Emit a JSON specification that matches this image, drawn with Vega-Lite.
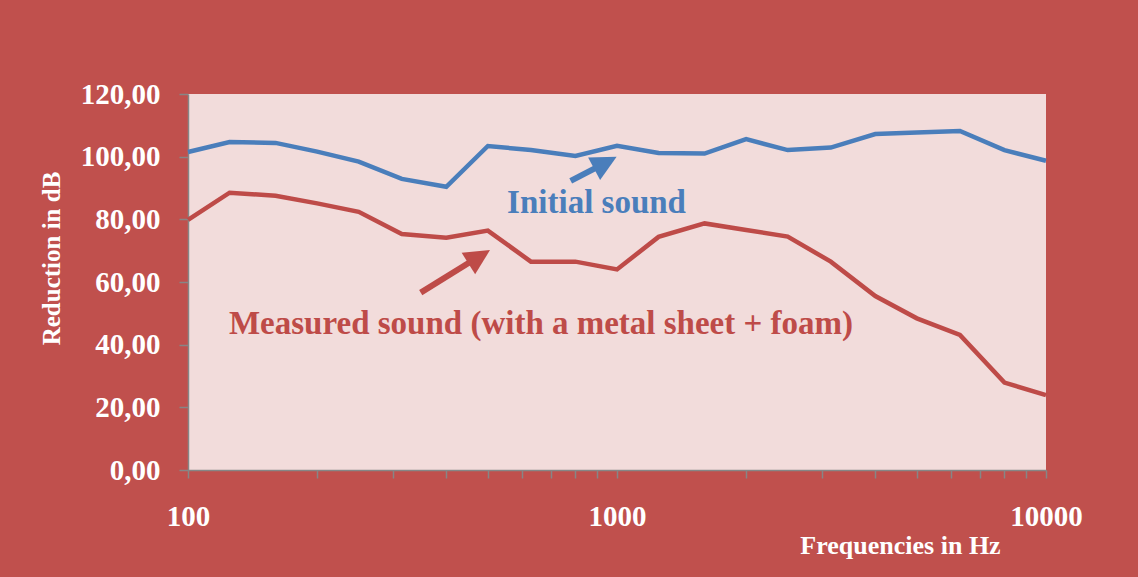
{
  "$schema": "https://vega.github.io/schema/vega-lite/v6.json",
  "width": 858,
  "height": 376,
  "autosize": "none",
  "padding": {"left": 188, "top": 94, "right": 92, "bottom": 107},
  "background": "#C0504D",
  "datasets": {
    "curves": [
      {"freq": 100, "series": "Initial sound", "value": 101.5},
      {"freq": 125, "series": "Initial sound", "value": 104.7},
      {"freq": 160, "series": "Initial sound", "value": 104.4},
      {"freq": 200, "series": "Initial sound", "value": 101.6},
      {"freq": 250, "series": "Initial sound", "value": 98.4},
      {"freq": 315, "series": "Initial sound", "value": 92.9},
      {"freq": 400, "series": "Initial sound", "value": 90.4},
      {"freq": 500, "series": "Initial sound", "value": 103.4},
      {"freq": 630, "series": "Initial sound", "value": 102.1},
      {"freq": 800, "series": "Initial sound", "value": 100.2},
      {"freq": 1000, "series": "Initial sound", "value": 103.5},
      {"freq": 1250, "series": "Initial sound", "value": 101.2},
      {"freq": 1600, "series": "Initial sound", "value": 101.0},
      {"freq": 2000, "series": "Initial sound", "value": 105.6},
      {"freq": 2500, "series": "Initial sound", "value": 102.1},
      {"freq": 3150, "series": "Initial sound", "value": 102.9},
      {"freq": 4000, "series": "Initial sound", "value": 107.2},
      {"freq": 5000, "series": "Initial sound", "value": 107.7},
      {"freq": 6300, "series": "Initial sound", "value": 108.2},
      {"freq": 8000, "series": "Initial sound", "value": 102.1},
      {"freq": 10000, "series": "Initial sound", "value": 98.7},
      {"freq": 100, "series": "Measured sound", "value": 79.8},
      {"freq": 125, "series": "Measured sound", "value": 88.5},
      {"freq": 160, "series": "Measured sound", "value": 87.5},
      {"freq": 200, "series": "Measured sound", "value": 85.1},
      {"freq": 250, "series": "Measured sound", "value": 82.4},
      {"freq": 315, "series": "Measured sound", "value": 75.3},
      {"freq": 400, "series": "Measured sound", "value": 74.1},
      {"freq": 500, "series": "Measured sound", "value": 76.4},
      {"freq": 630, "series": "Measured sound", "value": 66.5},
      {"freq": 800, "series": "Measured sound", "value": 66.5},
      {"freq": 1000, "series": "Measured sound", "value": 64.0},
      {"freq": 1250, "series": "Measured sound", "value": 74.4},
      {"freq": 1600, "series": "Measured sound", "value": 78.7},
      {"freq": 2000, "series": "Measured sound", "value": 76.6},
      {"freq": 2500, "series": "Measured sound", "value": 74.5},
      {"freq": 3150, "series": "Measured sound", "value": 66.5},
      {"freq": 4000, "series": "Measured sound", "value": 55.5},
      {"freq": 5000, "series": "Measured sound", "value": 48.4},
      {"freq": 6300, "series": "Measured sound", "value": 43.1},
      {"freq": 8000, "series": "Measured sound", "value": 27.9},
      {"freq": 10000, "series": "Measured sound", "value": 23.9}
    ],
    "arrows": [
      {"series": "Initial sound", "x1": 780, "y1": 92.3, "x2": 945, "y2": 98.2, "tipx": 998, "tipy": 100.0},
      {"series": "Measured sound", "x1": 348.7, "y1": 56.6, "x2": 478, "y2": 68.2, "tipx": 505.8, "tipy": 70.2}
    ],
    "labels": [
      {"series": "Initial sound", "x": 896, "y": 82.1, "text": "Initial sound"},
      {"series": "Measured sound", "x": 665, "y": 43.4, "text": "Measured sound (with a metal sheet + foam)"}
    ]
  },
  "layer": [
    {
      "data": {"name": "curves"},
      "mark": {"type": "line", "strokeWidth": 4.5},
      "encoding": {
        "x": {
          "field": "freq", "type": "quantitative",
          "scale": {"type": "log", "domain": [100, 10000], "nice": false},
          "axis": {
            "values": [100, 200, 300, 400, 500, 600, 700, 800, 900, 1000, 2000, 3000, 4000, 5000, 6000, 7000, 8000, 9000, 10000],
            "labelExpr": "(datum.value == 100 || datum.value == 1000 || datum.value == 10000) ? format(datum.value, 'd') : ''",
            "labelOverlap": false,
            "labelFlush": false,
            "labelAlign": "center",
            "labelFontSize": 29,
            "labelBaseline": "alphabetic",
            "labelPadding": 47,
            "tickSize": 8,
            "title": "Frequencies in Hz",
            "titleFontSize": 26,
            "titleAlign": "center",
            "titleBaseline": "alphabetic",
            "titleX": 712,
            "titleY": 83
          }
        },
        "y": {
          "field": "value", "type": "quantitative",
          "scale": {"domain": [0, 120], "nice": false},
          "axis": {
            "values": [0, 20, 40, 60, 80, 100, 120],
            "labelExpr": "replace(format(datum.value, '.2f'), '.', ',')",
            "labelFontSize": 29,
            "labelFlush": false,
            "labelPadding": 19,
            "tickSize": 9,
            "title": "Reduction in dB",
            "titleFontSize": 25,
            "titleAngle": -90,
            "titleAlign": "center",
            "titleBaseline": "alphabetic",
            "titleX": -129,
            "titleY": 164
          }
        },
        "color": {
          "field": "series", "type": "nominal",
          "scale": {"domain": ["Initial sound", "Measured sound"], "range": ["#4A7EBB", "#BE4B48"]},
          "legend": null
        }
      }
    },
    {
      "data": {"name": "arrows"},
      "mark": {"type": "rule", "strokeWidth": 6},
      "encoding": {
        "x": {"field": "x1", "type": "quantitative"},
        "y": {"field": "y1", "type": "quantitative"},
        "x2": {"field": "x2"},
        "y2": {"field": "y2"},
        "color": {"field": "series", "type": "nominal"}
      }
    },
    {
      "data": {"name": "arrows"},
      "transform": [{"filter": "datum.series === 'Initial sound'"}],
      "mark": {"type": "point", "shape": "M0,0 L-1,2 L1,2 Z", "filled": true, "opacity": 1, "size": 650, "angle": 62},
      "encoding": {
        "x": {"field": "tipx", "type": "quantitative"},
        "y": {"field": "tipy", "type": "quantitative"},
        "color": {"field": "series", "type": "nominal"}
      }
    },
    {
      "data": {"name": "arrows"},
      "transform": [{"filter": "datum.series === 'Measured sound'"}],
      "mark": {"type": "point", "shape": "M0,0 L-1,2 L1,2 Z", "filled": true, "opacity": 1, "size": 650, "angle": 58},
      "encoding": {
        "x": {"field": "tipx", "type": "quantitative"},
        "y": {"field": "tipy", "type": "quantitative"},
        "color": {"field": "series", "type": "nominal"}
      }
    },
    {
      "data": {"name": "labels"},
      "mark": {"type": "text", "font": "Liberation Serif", "fontWeight": "bold", "fontSize": 33, "align": "center", "baseline": "alphabetic"},
      "encoding": {
        "x": {"field": "x", "type": "quantitative"},
        "y": {"field": "y", "type": "quantitative"},
        "text": {"field": "text"},
        "color": {"field": "series", "type": "nominal"}
      }
    }
  ],
  "config": {
    "font": "Liberation Serif",
    "view": {"fill": "#F2DCDB", "stroke": null},
    "axis": {
      "grid": false,
      "domainColor": "#868686",
      "domainWidth": 1.5,
      "tickColor": "#868686",
      "tickWidth": 1.5,
      "labelColor": "#FFFFFF",
      "labelFont": "Liberation Serif",
      "labelFontWeight": "bold",
      "titleColor": "#FFFFFF",
      "titleFont": "Liberation Serif",
      "titleFontWeight": "bold"
    }
  }
}
